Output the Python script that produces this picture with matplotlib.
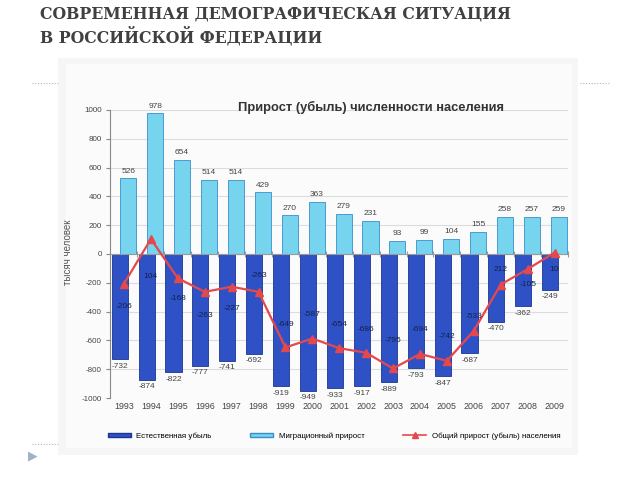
import matplotlib
matplotlib.use("Agg")
import matplotlib.pyplot as plt
from matplotlib.patches import Rectangle
from matplotlib.lines import Line2D
from matplotlib.patches import Patch

plt.rcParams["axes.unicode_minus"] = False

years = ["1993", "1994", "1995", "1996", "1997", "1998", "1999", "2000", "2001",
         "2002", "2003", "2004", "2005", "2006", "2007", "2008", "2009"]
natural = [-732, -874, -822, -777, -741, -692, -919, -949, -933, -917, -889,
           -793, -847, -687, -470, -362, -249]
migration = [526, 978, 654, 514, 514, 429, 270, 363, 279, 231, 93, 99, 104,
             155, 258, 257, 259]
total = [-206, 104, -168, -263, -227, -263, -649, -587, -654, -686, -795, -694,
         -742, -533, -212, -105, 10]
total_labels = ["-206", "104", "-168", "-263", "-227", "-263", "-649", "-587", "-654",
                "-686", "-795", "-694", "-742", "-533", "212", "-105", "10"]
# vertical placement of the total labels (layout only)
total_label_pos = [-368, -153, -306, -424, -375, -146, -493, -417, -493, -521,
                   -604, -521, -576, -431, -111, -215, -111]

page_title = "СОВРЕМЕННАЯ ДЕМОГРАФИЧЕСКАЯ СИТУАЦИЯ\nВ РОССИЙСКОЙ ФЕДЕРАЦИИ"
chart_title = "Прирост (убыль) численности населения"
y_label = "тысяч человек"
legend_labels = ["Естественная убыль", "Миграционный прирост",
                 "Общий прирост (убыль) населения"]

W, H = 640, 480
fig = plt.figure(figsize=(6.4, 4.8), dpi=100)
fig.patch.set_facecolor("white")

def fx(px):
    return px / W

def fy(py):
    return 1 - py / H

# light panel behind the chart
fig.patches.append(Rectangle((fx(58), fy(455)), fx(578) - fx(58), fy(58) - fy(455),
                             transform=fig.transFigure, facecolor="#f6f6f6",
                             edgecolor="none", zorder=-2))
fig.patches.append(Rectangle((fx(66), fy(448)), fx(572) - fx(66), fy(64) - fy(448),
                             transform=fig.transFigure, facecolor="#fbfbfb",
                             edgecolor="none", zorder=-1))

# dotted separators
for x0, x1, yy in [(32, 58, 83), (580, 610, 83), (32, 58, 444)]:
    fig.add_artist(Line2D([fx(x0), fx(x1)], [fy(yy), fy(yy)], transform=fig.transFigure,
                          color="#b5b5b5", lw=0.8, ls=(0, (1, 1.5))))
fig.text(fx(28), fy(456), "▶", fontsize=9, color="#9fb3c8", va="center", ha="left",
         family="DejaVu Sans")

fig.text(fx(40), fy(26), page_title, fontsize=11.3, fontweight="bold",
         family="DejaVu Serif", color="#404040", va="center", ha="left",
         linespacing=1.3)

ax = fig.add_axes([fx(110), fy(398), fx(568) - fx(110), fy(110) - fy(398)])
ax.set_zorder(3)
ax.set_facecolor("none")
n = len(years)
xs = list(range(n))
off = 0.16
bw = 0.6

ax.bar([x - off for x in xs], natural, width=bw, color="#2e52c6",
       edgecolor="#1d3592", linewidth=0.6, zorder=2)
ax.bar([x + off for x in xs], migration, width=bw, color="#76d4ef",
       edgecolor="#3c8ec9", linewidth=0.6, zorder=3)
ax.plot(xs, total, color="#e5484c", lw=1.6, marker="^", markersize=6,
        markerfacecolor="#e5484c", markeredgecolor="#e5484c", zorder=5)

lab_kw = dict(fontsize=6, color="#444444", ha="center", family="Liberation Sans")
for i in range(n):
    ax.text(xs[i] + off, migration[i] + 25, str(migration[i]), va="bottom", **lab_kw)
    ax.text(xs[i] - off, natural[i] - 25, str(natural[i]), va="top", **lab_kw)
    ax.text(xs[i], total_label_pos[i], total_labels[i], va="center",
            fontsize=6, color="#15204a", ha="center", family="Liberation Sans",
            zorder=6)

ax.set_xlim(-0.52, 16.3)
ax.set_ylim(-1000, 1000)
ax.set_yticks(range(-1000, 1001, 200))
ax.tick_params(axis="y", labelsize=5.8, labelcolor="#444444", color="#888888",
               length=3, direction="out", pad=3)
for lab in ax.get_yticklabels():
    lab.set_family("Liberation Sans")
ax.grid(axis="y", color="#dcdcdc", lw=0.8, zorder=0)
ax.set_axisbelow(True)

for s in ["top", "right"]:
    ax.spines[s].set_visible(False)
ax.spines["left"].set_color("#888888")
ax.spines["bottom"].set_position(("data", 0))
ax.spines["bottom"].set_color("#9a9a9a")
ax.spines["bottom"].set_zorder(4)
ax.set_xticks([x + 0.5 for x in xs])
ax.set_xticklabels([])
ax.tick_params(axis="x", direction="inout", length=5, color="#9a9a9a")

for i in range(n):
    ax.text(xs[i], -1030, years[i], va="top", ha="center", fontsize=6.4,
            color="#444444", family="Liberation Sans")

fig.text(fx(68), fy(252), y_label, rotation=90, fontsize=7, color="#555555",
         va="center", ha="center", family="Liberation Sans")
fig.text(fx(371), fy(107), chart_title, fontsize=9.3, fontweight="bold",
         color="#333333", va="center", ha="center", family="Liberation Sans")

handles = [Patch(facecolor="#2e52c6", edgecolor="#1d3592"),
           Patch(facecolor="#76d4ef", edgecolor="#3c8ec9"),
           Line2D([0], [0], color="#e5484c", lw=1.2, marker="^", markersize=4)]
leg = fig.legend(handles, legend_labels, loc="center", bbox_to_anchor=(fx(334), fy(436)),
                 ncol=3, frameon=False, handlelength=2.9,
                 handleheight=0.5, columnspacing=4.9, handletextpad=0.7,
                 prop={"family": "Liberation Sans", "size": 5.7})

fig.savefig("out.png", dpi=100)
